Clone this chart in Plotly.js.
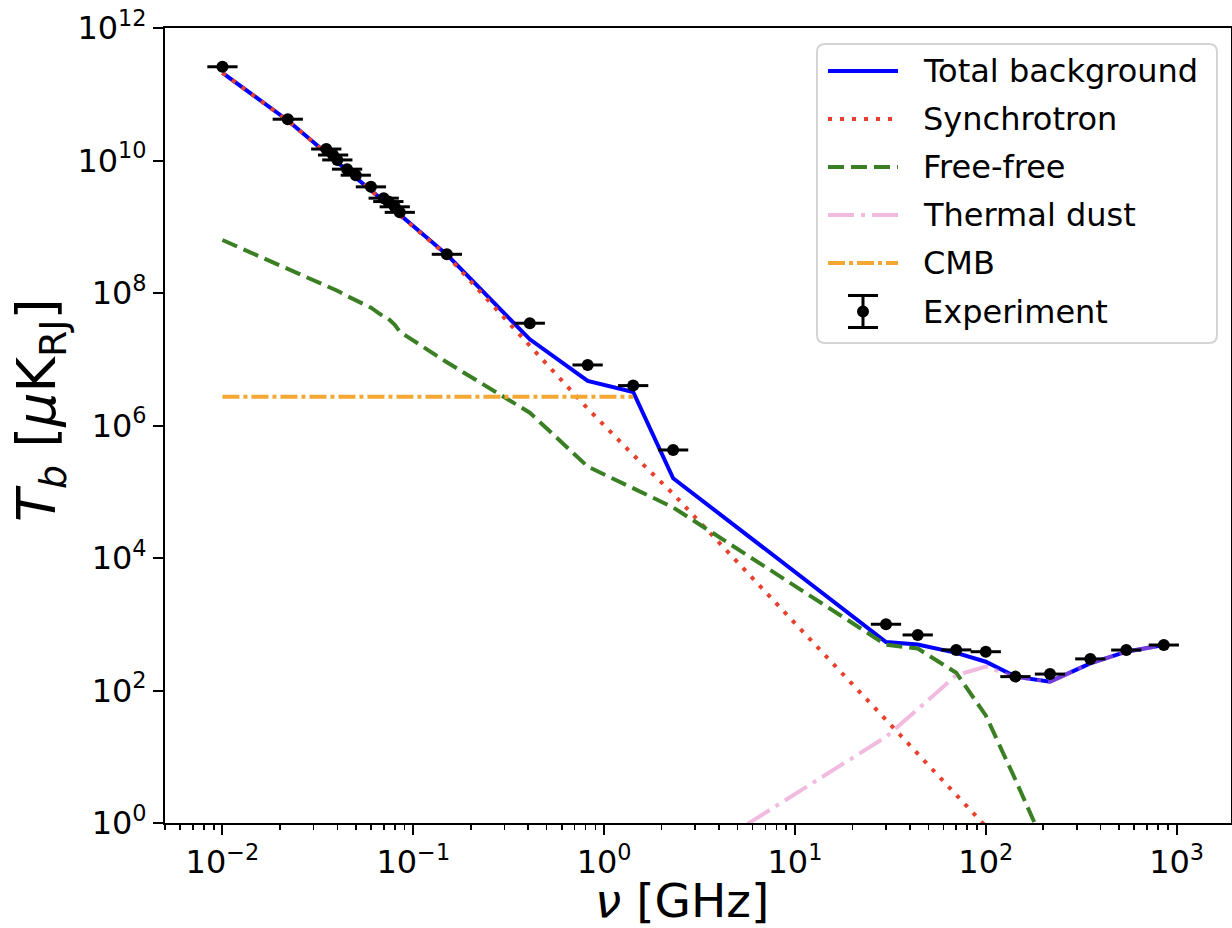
<!DOCTYPE html>
<html>
<head>
<meta charset="utf-8">
<script src="https://cdn.plot.ly/plotly-3.0.1.min.js"></script>
<style>html,body{margin:0;padding:0;background:#fff;}#chart{width:1232px;height:928px;}</style>
</head>
<body>
<div id="chart"></div>
<script>
// Frequencies [GHz]
const nu = [0.01, 0.022, 0.035, 0.038, 0.040, 0.045, 0.050, 0.060, 0.070, 0.074, 0.080, 0.085,
            0.15, 0.408, 0.82, 1.42, 2.3, 30, 44, 70, 100, 143, 217, 353, 545, 857];

// Experiment brightness temperatures [uK_RJ]
const experiment = [2.6e11, 4.2e10, 1.49e10, 1.21e10, 1.02e10, 7.4e9, 6.0e9, 4.0e9, 2.7e9, 2.4e9, 2.0e9, 1.65e9,
                    3.84e8, 3.5e7, 8.2e6, 4.0e6, 4.27e5, 1.0e3, 690, 410, 385, 162, 177, 300, 408, 486];
// relative horizontal error (upper / lower)
const xerrUpFrac = 0.20;
const xerrDownFrac = 0.167;

const totalBg = [2.11e11, 4.02e10, 1.30e10, 1.06e10, 9.4e9, 7.1e9, 5.5e9, 3.56e9, 2.44e9, 2.14e9, 1.76e9, 1.52e9,
                 3.8e8, 2.0e7, 4.7e6, 3.2e6, 1.6e5, 540, 495, 370, 272, 162, 136, 257, 385, 486];

const synchrotron = [2.1e11, 4.0e10, 1.29e10, 1.05e10, 9.3e9, 7.0e9, 5.4e9, 3.5e9, 2.4e9, 2.1e9, 1.73e9, 1.49e9,
                     3.7e8, 1.6e7, 1.8e6, 3.6e5, 9.3e4, 36, 11, 2.6, 0.87, 0.29, 0.081, 0.018, 0.0048, 0.0012];

const freeFree = [6.3e8, 2.36e8, 1.28e8, 1.18e8, 1.08e8, 9.0e7, 7.8e7, 6.0e7, 4.4e7, 4.1e7, 3.3e7, 2.6e7,
                  9.0e6, 1.56e6, 2.4e5, 1.15e5, 5.8e4, 490, 430, 185, 42, 4.5, 0.3, 0.005, 1e-4, 1e-6];

const thermalDust = [null, null, null, null, null, null, null, null, null, null, null, null,
                     null, null, null, null, 0.19, 20, 52, 170, 229, 160, 135, 256, 384, 485];

const cmb = [2.725e6, 2.725e6, 2.725e6, 2.725e6, 2.725e6, 2.725e6, 2.725e6, 2.725e6, 2.725e6, 2.725e6, 2.725e6, 2.725e6,
             2.725e6, 2.725e6, 2.725e6, 2.725e6, null, null, null, null, null, null, null, null, null, null];

const seriesNames = ['Total background', 'Synchrotron', 'Free-free', 'Thermal dust', 'CMB', 'Experiment'];

const xTickVals = [1e-2, 1e-1, 1e0, 1e1, 1e2, 1e3];
const xTickText = ['10<sup>\u22122</sup>', '10<sup>\u22121</sup>', '10<sup>0</sup>', '10<sup>1</sup>', '10<sup>2</sup>', '10<sup>3</sup>'];
const yTickVals = [1e0, 1e2, 1e4, 1e6, 1e8, 1e10, 1e12];
const yTickText = ['10<sup>0</sup>', '10<sup>2</sup>', '10<sup>4</sup>', '10<sup>6</sup>', '10<sup>8</sup>', '10<sup>10</sup>', '10<sup>12</sup>'];

// minor ticks 2..9 x each decade
const minorVals = [];
for (let e = -3; e <= 3; e++) for (let m = 2; m <= 9; m++) minorVals.push(m * Math.pow(10, e));

const FONT = 'DejaVu Sans, sans-serif';
const TICKSIZE = 32;

const styles = [
  {color: '#0000ff', width: 4, dash: 'solid'},
  {color: '#e8402c', width: 4, dash: '4px,8px'},
  {color: '#3a7f24', width: 4, dash: '16px,7px'},
  {color: 'rgba(228,120,192,0.5)', width: 4, dash: '26px,7px,4px,7px'},
  {color: '#f5a733', width: 4, dash: '17px,4px,4px,4px'}
];
const lineSeries = [totalBg, synchrotron, freeFree, thermalDust, cmb];

const traces = lineSeries.map((ys, i) => ({
  x: nu, y: ys, mode: 'lines', name: seriesNames[i], showlegend: false,
  line: styles[i]
}));
traces.push({
  x: nu, y: experiment, mode: 'markers', name: seriesNames[5], showlegend: false,
  marker: {color: '#000', size: 12},
  error_x: {type: 'data', symmetric: false,
            array: nu.map(v => v * xerrUpFrac), arrayminus: nu.map(v => v * xerrDownFrac),
            color: '#000', thickness: 3, width: 0}
});

// ---- manual legend (matplotlib-like) ----
const PL = 165, PW = 1066, PT = 28, PH = 795;
const px = v => (v - PL) / PW;
const py = v => 1 - (v - PT) / PH;
const shapes = [];
const annotations = [];
(function () {
  const x0 = 817, x1 = 1217, y0 = 44, y1 = 343, r = 8;
  const P = (a, b) => px(a) + ',' + py(b);
  const path = 'M' + P(x0 + r, y0) + ' L' + P(x1 - r, y0) + ' Q' + P(x1, y0) + ' ' + P(x1, y0 + r) +
    ' L' + P(x1, y1 - r) + ' Q' + P(x1, y1) + ' ' + P(x1 - r, y1) +
    ' L' + P(x0 + r, y1) + ' Q' + P(x0, y1) + ' ' + P(x0, y1 - r) +
    ' L' + P(x0, y0 + r) + ' Q' + P(x0, y0) + ' ' + P(x0 + r, y0) + ' Z';
  shapes.push({type: 'path', xref: 'paper', yref: 'paper', path: path,
               fillcolor: 'rgba(255,255,255,0.8)', line: {color: '#d4d4d4', width: 2}, layer: 'above'});
})();
const rowY = [71, 119, 167, 215, 263, 311.5];
for (let i = 0; i < 5; i++) {
  shapes.push({type: 'line', xref: 'paper', yref: 'paper', layer: 'above',
               x0: px(828), x1: px(898), y0: py(rowY[i]), y1: py(rowY[i]), line: styles[i]});
}
const ex = 863, ey = rowY[5];
shapes.push({type: 'line', xref: 'paper', yref: 'paper', layer: 'above',
             x0: px(ex), x1: px(ex), y0: py(ey - 16), y1: py(ey + 16), line: {color: '#000', width: 3}});
shapes.push({type: 'line', xref: 'paper', yref: 'paper', layer: 'above',
             x0: px(ex - 15), x1: px(ex + 15), y0: py(ey - 16), y1: py(ey - 16), line: {color: '#000', width: 3}});
shapes.push({type: 'line', xref: 'paper', yref: 'paper', layer: 'above',
             x0: px(ex - 15), x1: px(ex + 15), y0: py(ey + 16), y1: py(ey + 16), line: {color: '#000', width: 3}});
shapes.push({type: 'circle', xref: 'paper', yref: 'paper', layer: 'above',
             xsizemode: 'pixel', ysizemode: 'pixel', xanchor: px(ex), yanchor: py(ey),
             x0: -6, x1: 6, y0: -6, y1: 6, fillcolor: '#000', line: {color: '#000', width: 0}});
for (let i = 0; i < 6; i++) {
  annotations.push({xref: 'paper', yref: 'paper', x: px(921), y: py(rowY[i]), xanchor: 'left', yanchor: 'middle',
                    text: seriesNames[i], showarrow: false, font: {family: FONT, size: 32, color: '#000'}});
}
// axis titles
annotations.push({xref: 'paper', yref: 'paper', x: px(682), y: py(900), xanchor: 'center', yanchor: 'middle',
                  borderpad: 0,
                  text: '<i>ν</i> [GHz]', showarrow: false, font: {family: FONT, size: 47, color: '#000'}});
annotations.push({xref: 'paper', yref: 'paper', x: px(40), y: py(410), xanchor: 'center', yanchor: 'middle',
                  textangle: -90,
                  text: '<i>T</i><sub><i>b</i></sub> [<i>μ</i>K<sub>RJ</sub>]', showarrow: false, font: {family: FONT, size: 54, color: '#000'}});

const layout = {
  width: 1232, height: 928,
  margin: {l: PL, r: 1, t: PT, b: 105},
  paper_bgcolor: '#fff', plot_bgcolor: '#fff',
  font: {family: FONT, color: '#000', size: TICKSIZE},
  showlegend: false,
  shapes: shapes,
  annotations: annotations,
  xaxis: {type: 'log', range: [Math.log10(0.005), 3.285],
          showgrid: false, zeroline: false,
          showline: true, linecolor: '#000', linewidth: 2, mirror: true,
          ticks: 'outside', ticklen: 10, tickwidth: 2, tickcolor: '#000',
          tickmode: 'array', tickvals: xTickVals, ticktext: xTickText,
          tickfont: {family: FONT, size: TICKSIZE, color: '#000'},
          minor: {tickmode: 'array', tickvals: minorVals, ticks: 'outside', ticklen: 5, tickwidth: 1.6, tickcolor: '#000', showgrid: false}},
  yaxis: {type: 'log', range: [0, 12],
          showgrid: false, zeroline: false,
          showline: true, linecolor: '#000', linewidth: 2, mirror: true,
          ticks: 'outside', ticklen: 10, tickwidth: 2, tickcolor: '#000',
          tickmode: 'array', tickvals: yTickVals, ticktext: yTickText,
          tickfont: {family: FONT, size: TICKSIZE, color: '#000'}}
};

Plotly.newPlot('chart', traces, layout, {staticPlot: true, displayModeBar: false});
</script>
</body>
</html>
